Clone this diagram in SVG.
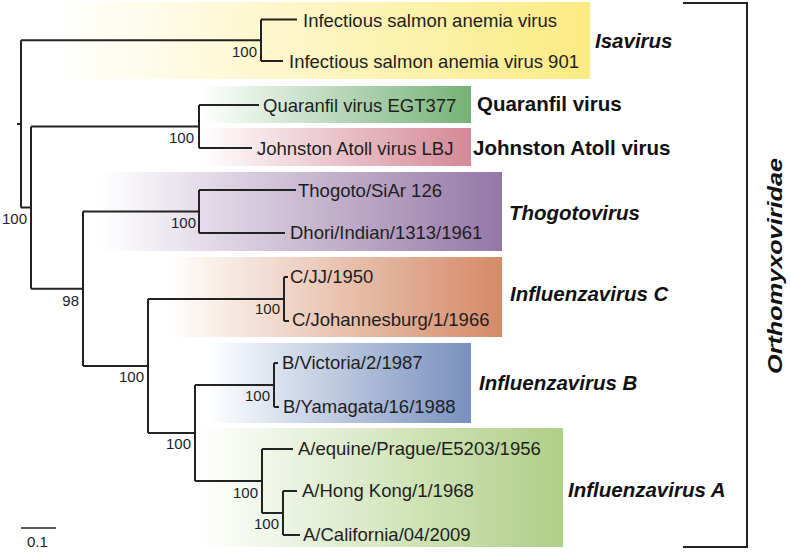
<svg xmlns="http://www.w3.org/2000/svg" width="791" height="552" viewBox="0 0 791 552">
<defs>
<linearGradient id="gY" x1="0" x2="1" y1="0" y2="0"><stop offset="0" stop-color="#ffffff"/><stop offset="1" stop-color="#fbeb82"/></linearGradient>
<linearGradient id="gQ" x1="0" x2="1" y1="0" y2="0"><stop offset="0" stop-color="#ffffff"/><stop offset="1" stop-color="#75b277"/></linearGradient>
<linearGradient id="gJ" x1="0" x2="1" y1="0" y2="0"><stop offset="0" stop-color="#ffffff"/><stop offset="1" stop-color="#d48897"/></linearGradient>
<linearGradient id="gT" x1="0" x2="1" y1="0" y2="0"><stop offset="0" stop-color="#ffffff"/><stop offset="1" stop-color="#9577a6"/></linearGradient>
<linearGradient id="gC" x1="0" x2="1" y1="0" y2="0"><stop offset="0" stop-color="#ffffff"/><stop offset="1" stop-color="#d48a66"/></linearGradient>
<linearGradient id="gB" x1="0" x2="1" y1="0" y2="0"><stop offset="0" stop-color="#ffffff"/><stop offset="1" stop-color="#7790be"/></linearGradient>
<linearGradient id="gA" x1="0" x2="1" y1="0" y2="0"><stop offset="0" stop-color="#ffffff"/><stop offset="1" stop-color="#afcf86"/></linearGradient>
</defs>
<style>
.leaf{font-family:"Liberation Sans",Arial,Helvetica,sans-serif;font-size:18.5px;fill:#1e1e1e}
.bs{font-family:"Liberation Sans",Arial,Helvetica,sans-serif;font-size:15px;fill:#1e1e1e;text-anchor:end}
.grp{font-family:"Liberation Sans",Arial,Helvetica,sans-serif;font-size:20.5px;font-weight:bold;fill:#111}
.it{font-style:italic}
.br{fill:none;stroke:#222;stroke-width:2;stroke-linecap:square}
</style>
<rect width="791" height="552" fill="#ffffff"/>

<g id="isavirus">
<rect x="55" y="2" width="535" height="77" fill="url(#gY)"/>
<text class="leaf" x="303" y="26.5">Infectious salmon anemia virus</text>
<text class="leaf" x="289" y="68">Infectious salmon anemia virus 901</text>
<text class="grp it" x="595" y="48">Isavirus</text>
</g>
<g id="quaranfil">
<rect x="200" y="86" width="271" height="37" fill="url(#gQ)"/>
<text class="leaf" x="263" y="111.5">Quaranfil virus EGT377</text>
<text class="grp" x="477" y="111">Quaranfil virus</text>
</g>
<g id="johnston">
<rect x="200" y="128" width="271" height="38" fill="url(#gJ)"/>
<text class="leaf" x="257" y="154.5">Johnston Atoll virus LBJ</text>
<text class="grp" x="473" y="155">Johnston Atoll virus</text>
</g>
<g id="thogotovirus">
<rect x="100" y="172" width="402" height="79" fill="url(#gT)"/>
<text class="leaf" x="298" y="196.5">Thogoto/SiAr 126</text>
<text class="leaf" x="290" y="239">Dhori/Indian/1313/1961</text>
<text class="grp it" x="509" y="220">Thogotovirus</text>
</g>
<g id="influenzaC">
<rect x="168" y="257" width="334" height="80" fill="url(#gC)"/>
<text class="leaf" x="290" y="283">C/JJ/1950</text>
<text class="leaf" x="292" y="326">C/Johannesburg/1/1966</text>
<text class="grp it" x="510" y="301">Influenzavirus C</text>
</g>
<g id="influenzaB">
<rect x="208" y="343" width="263" height="80" fill="url(#gB)"/>
<text class="leaf" x="282" y="369">B/Victoria/2/1987</text>
<text class="leaf" x="283" y="412.5">B/Yamagata/16/1988</text>
<text class="grp it" x="479" y="390">Influenzavirus B</text>
</g>
<g id="influenzaA">
<rect x="200" y="428" width="363" height="119" fill="url(#gA)"/>
<text class="leaf" x="298" y="455">A/equine/Prague/E5203/1956</text>
<text class="leaf" x="302" y="497">A/Hong Kong/1/1968</text>
<text class="leaf" x="303" y="541">A/California/04/2009</text>
<text class="grp it" x="568" y="497">Influenzavirus A</text>
</g>

<g id="connectors" fill="none" stroke="#222" stroke-width="2">
<path d="M17,124 H21 M21,40.25 V207.6 M21,40.25 H261 M21,207.6 H31"/>
<path d="M261,19.5 V61 M261,19.5 H297 M261,61 H283"/>
<path d="M31,126.5 V288.75 M31,126.5 H199 M31,288.75 H83"/>
<path d="M199,105 V148 M199,105 H259 M199,148 H252"/>
<path d="M83,211.5 V366 M83,211.5 H199 M83,366 H148"/>
<path d="M199,190 V233 M199,190 H296 M199,233 H285"/>
<path d="M148,299 V433 M148,299 H284 M148,433 H195"/>
<path d="M284,277 V321 M284,277 H288 M284,321 H289"/>
<path d="M195,385 V481 M195,385 H274 M195,481 H262"/>
<path d="M274,363 V407 M274,363 H278 M274,407 H279"/>
<path d="M262,449 V513 M262,449 H293 M262,513 H283"/>
<path d="M283,491 V535 M283,491 H297 M283,535 H300"/>
</g>

<g id="bootstrap">
<text class="bs" x="257" y="56.5">100</text>
<text class="bs" x="194" y="142.5">100</text>
<text class="bs" x="27" y="223.5">100</text>
<text class="bs" x="196" y="228">100</text>
<text class="bs" x="79" y="305.5">98</text>
<text class="bs" x="280" y="313.5">100</text>
<text class="bs" x="144" y="382">100</text>
<text class="bs" x="270" y="401">100</text>
<text class="bs" x="191" y="449">100</text>
<text class="bs" x="258" y="497.5">100</text>
<text class="bs" x="279" y="528.5">100</text>
</g>

<g id="scale">
<path d="M21,528 H56" stroke="#222" stroke-width="1.5"/>
<text x="27" y="547" style="font-family:'Liberation Sans',Arial,sans-serif;font-size:15px;fill:#1e1e1e">0.1</text>
</g>

<g id="orthomyxoviridae">
<path class="br" d="M684,3 H747 V547 H684"/>
<text class="grp it" transform="translate(782,266) rotate(-90)" text-anchor="middle" font-size="22" textLength="216" lengthAdjust="spacingAndGlyphs">Orthomyxoviridae</text>
</g>
</svg>
